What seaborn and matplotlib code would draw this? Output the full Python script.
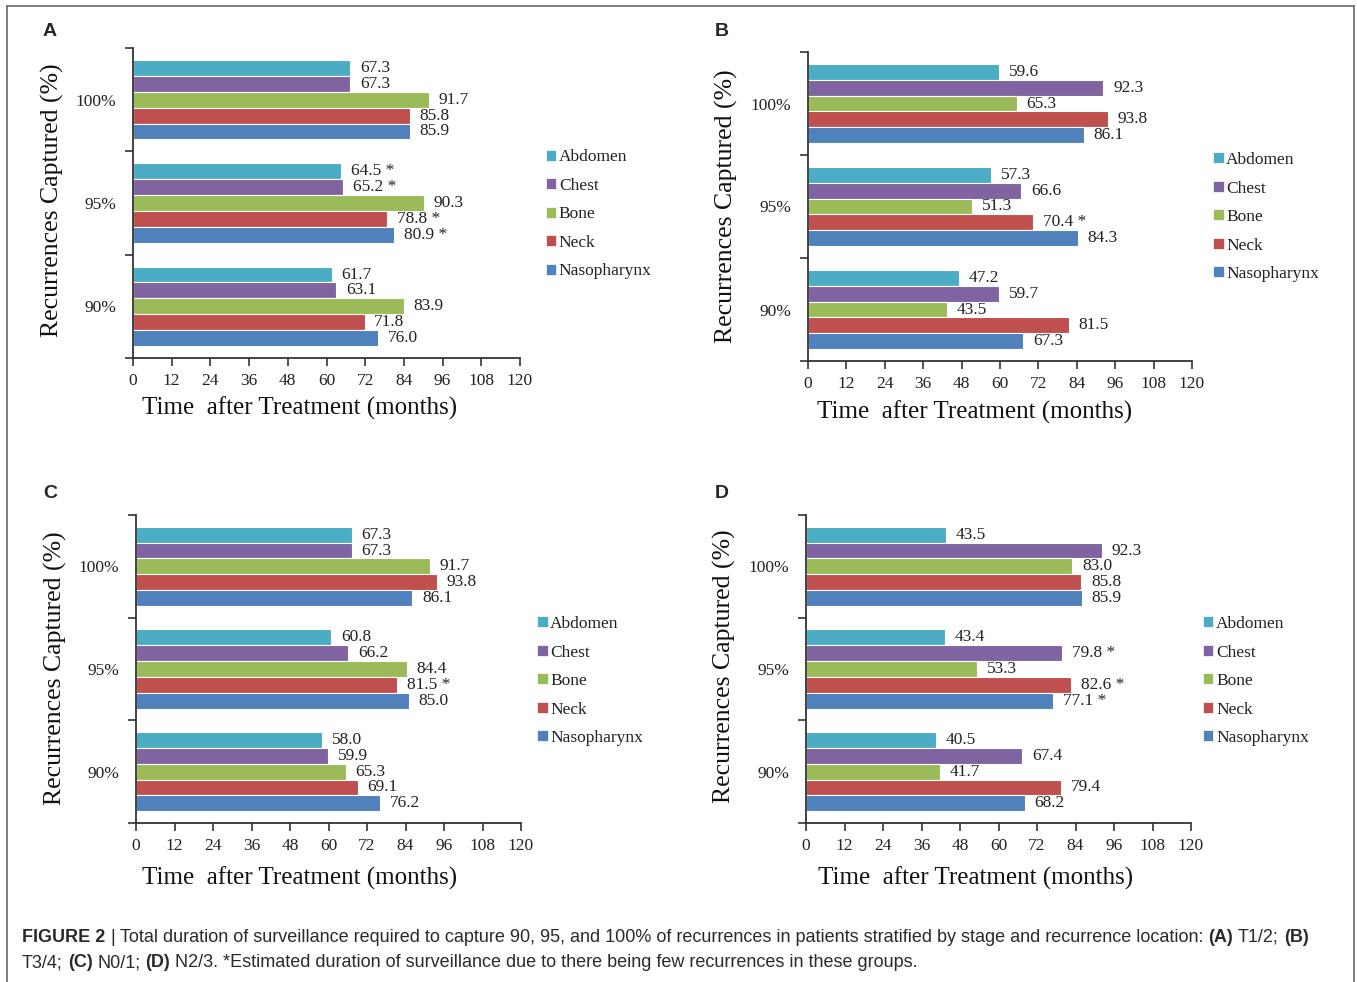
import matplotlib
matplotlib.use("Agg")
import numpy as np
import pandas as pd
import seaborn as sns
import matplotlib.pyplot as plt
from matplotlib.patches import Patch
from matplotlib.lines import Line2D
from matplotlib import font_manager

# ---------------- data ----------------
locations = ["Abdomen", "Chest", "Bone", "Neck", "Nasopharynx"]
captured = ["100%", "95%", "90%"]
colors = ["#4BACC6", "#8064A2", "#9BBB59", "#C0504D", "#4F81BD"]
x_ticks = [0, 12, 24, 36, 48, 60, 72, 84, 96, 108, 120]

# values listed by location (Abdomen, Chest, Bone, Neck, Nasopharynx)
a_100 = [67.3, 67.3, 91.7, 85.8, 85.9]
a_95 = [64.5, 65.2, 90.3, 78.8, 80.9]
a_90 = [61.7, 63.1, 83.9, 71.8, 76.0]
a_star_95 = [True, True, False, True, True]

b_100 = [59.6, 92.3, 65.3, 93.8, 86.1]
b_95 = [57.3, 66.6, 51.3, 70.4, 84.3]
b_90 = [47.2, 59.7, 43.5, 81.5, 67.3]
b_star_95 = [False, False, False, True, False]

c_100 = [67.3, 67.3, 91.7, 93.8, 86.1]
c_95 = [60.8, 66.2, 84.4, 81.5, 85.0]
c_90 = [58.0, 59.9, 65.3, 69.1, 76.2]
c_star_95 = [False, False, False, True, False]

d_100 = [43.5, 92.3, 83.0, 85.8, 85.9]
d_95 = [43.4, 79.8, 53.3, 82.6, 77.1]
d_90 = [40.5, 67.4, 41.7, 79.4, 68.2]
d_star_95 = [False, True, False, True, True]

no_star = [False] * 5

xlabel_text = "Time  after Treatment (months)"
ylabel_text = "Recurrences Captured (%)"

# ---------------- style ----------------
sns.set_style("ticks")
serif = ["Liberation Serif", "DejaVu Serif"]
plt.rcParams["font.family"] = serif

W, H = 1357, 982
fig = plt.figure(figsize=(W / 100, H / 100), dpi=100)


def fx(px):
    return px / W


def fy(py):
    return 1 - py / H


panels = [
    ("A", (a_100, a_95, a_90), (no_star, a_star_95, no_star), (133, 48, 520, 358), (1.067, 0.463), (0.43, -0.163), (-0.209, 0.51), (50, 32)),
    ("B", (b_100, b_95, b_90), (no_star, b_star_95, no_star), (808, 52, 1192, 361), (1.055, 0.466), (0.435, -0.165), (-0.213, 0.50), (722, 32)),
    ("C", (c_100, c_95, c_90), (no_star, c_star_95, no_star), (136, 515, 521, 823), (1.042, 0.461), (0.426, -0.18), (-0.208, 0.503), (50, 494)),
    ("D", (d_100, d_95, d_90), (no_star, d_star_95, no_star), (806, 515, 1191, 823), (1.031, 0.461), (0.44, -0.18), (-0.213, 0.51), (722, 494)),
]

for letter, vals, stars, (l, t, r, b), leg_anchor, xl, yl, lpos in panels:
    ax = fig.add_axes([fx(l), fy(b), (r - l) / W, (b - t) / H])
    rows = []
    for ci, cap in enumerate(captured):
        for li, loc in enumerate(locations):
            rows.append({"captured": cap, "location": loc, "months": vals[ci][li]})
    df = pd.DataFrame(rows)
    sns.barplot(data=df, x="months", y="captured", hue="location",
                order=captured, hue_order=locations, palette=colors,
                orient="h", width=0.77, saturation=1, errorbar=None,
                edgecolor="white", linewidth=0.8, legend=False, ax=ax)

    for li, cont in enumerate(ax.containers):
        labels = []
        for ci in range(len(captured)):
            s = f"{vals[ci][li]:.1f}"
            if stars[ci][li]:
                s += " *"
            labels.append(s)
        ax.bar_label(cont, labels=labels, padding=7, fontsize=12.5, color="#222222")

    ax.set_xlim(0, 120)
    ax.set_ylim(2.5, -0.5)
    ax.set_xticks(x_ticks)
    ax.set_xticklabels([str(v) for v in x_ticks], fontsize=12.5)
    ax.set_yticks(range(len(captured)))
    ax.set_yticklabels(captured, fontsize=12.5)
    ax.set_yticks([-0.5, 0.5, 1.5, 2.5], minor=True)
    ax.tick_params(axis="y", which="major", length=0, pad=12, colors="#222222")
    ax.tick_params(axis="y", which="minor", length=6, width=1.2, color="#333333")
    ax.tick_params(axis="x", which="major", length=6, width=1.2, pad=5, color="#333333", labelcolor="#222222")
    for sp in ["top", "right"]:
        ax.spines[sp].set_visible(False)
    for sp in ["left", "bottom"]:
        ax.spines[sp].set_linewidth(1.3)
        ax.spines[sp].set_color("#333333")

    ax.set_xlabel(xlabel_text, fontsize=18, color="#111111")
    ax.xaxis.set_label_coords(*xl)
    ax.xaxis.label.set_va("center")
    ax.set_ylabel(ylabel_text, fontsize=18.5, color="#111111")
    ax.yaxis.set_label_coords(*yl)
    ax.yaxis.label.set_va("center")

    handles = [Patch(facecolor=c, edgecolor="white", linewidth=0.5, label=lab) for c, lab in zip(colors, locations)]
    ax.legend(handles=handles, loc="center left", bbox_to_anchor=leg_anchor,
              frameon=False, handlelength=0.6, handleheight=0.6,
              handletextpad=0.15, labelspacing=0.72, fontsize=12.5,
              borderpad=0, borderaxespad=0, labelcolor="#222222")

    fig.text(fx(lpos[0]), fy(lpos[1]), letter, ha="center", va="center",
             fontsize=14, fontweight="bold", family=["Liberation Sans", "DejaVu Sans"])

# ---------------- border ----------------
border_col = "#666666"
fig.add_artist(Line2D([fx(7), fx(7)], [fy(6), 0], color=border_col, lw=1.2))
fig.add_artist(Line2D([fx(7), fx(1354)], [fy(6), fy(6)], color=border_col, lw=1.2))
fig.add_artist(Line2D([fx(1354), fx(1354)], [fy(6), 0], color=border_col, lw=1.2))

# ---------------- caption ----------------
names = {f.name for f in font_manager.fontManager.ttflist}
cap_family = ["Liberation Sans Narrow"] if "Liberation Sans Narrow" in names else ["Liberation Sans"]
cap_color = "#2a2a2a"

line1 = [("FIGURE 2", "bold"), ("|", "normal"),
         ("Total duration of surveillance required to capture 90, 95, and 100% of recurrences in patients stratified by stage and recurrence location:", "normal"),
         ("(A)", "bold"), ("T1/2;", "normal"), ("(B)", "bold")]
line2 = [("T3/4;", "normal"), ("(C)", "bold"), ("N0/1;", "normal"), ("(D)", "bold"),
         ("N2/3. *Estimated duration of surveillance due to there being few recurrences in these groups.", "normal")]

renderer = fig.canvas.get_renderer()


def measure(txt, size, weight):
    t = fig.text(0, 0, txt, fontsize=size, fontweight=weight, family=cap_family)
    w = t.get_window_extent(renderer).width
    t.remove()
    return w


def line_width(segs, size):
    sp = measure("a a", size, "normal") - measure("aa", size, "normal")
    return sum(measure(s, size, w) for s, w in segs) + sp * (len(segs) - 1), sp


base = 12
w1, _ = line_width(line1, base)
cap_size = base * (1291 / w1)
cap_size = min(cap_size, 13)


def draw_line(segs, x0, ybase, size):
    sp = measure("a a", size, "normal") - measure("aa", size, "normal")
    x = x0
    for s, w in segs:
        t = fig.text(fx(x), fy(ybase), s, fontsize=size, fontweight=w,
                     family=cap_family, color=cap_color, ha="left", va="baseline")
        x += t.get_window_extent(renderer).width + sp


draw_line(line1, 22, 942, cap_size)
draw_line(line2, 22, 967, cap_size)

fig.savefig("out.png", dpi=100)
